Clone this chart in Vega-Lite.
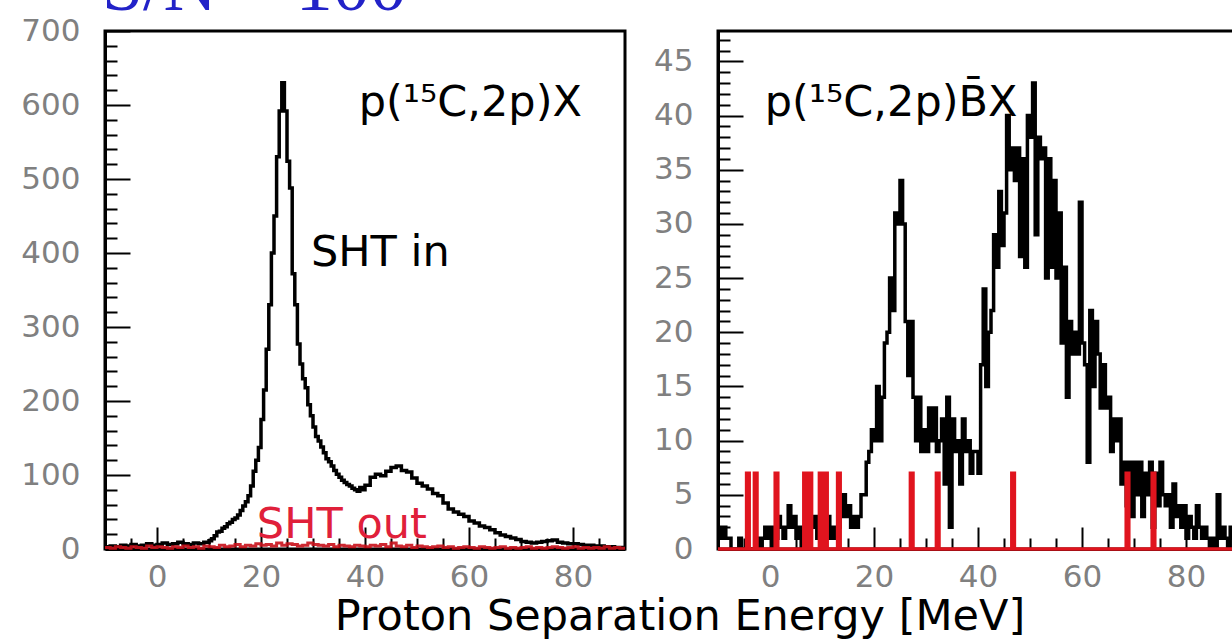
{
  "$schema": "https://vega.github.io/schema/vega-lite/v6.json",
  "background": "white",
  "padding": {"left": 19, "top": -51, "right": 0, "bottom": 0},
  "config": {
    "view": {"stroke": "black", "strokeWidth": 3},
    "axis": {"labelFont": "DejaVu Sans", "labelFontSize": 31, "labelColor": "#808080", "domainColor": "black", "domainWidth": 3, "tickColor": "black", "tickWidth": 2, "grid": false, "title": null, "labelOverlap": false, "labelFlush": false}
  },
  "title": {"text": "Proton Separation Energy [MeV]", "orient": "bottom", "anchor": "middle", "font": "DejaVu Sans", "fontSize": 43, "fontWeight": "normal", "color": "black", "dx": 47, "offset": -9},
  "datasets": {
    "leftIn": [
      {"E": -10, "n": 3}, {"E": -9, "n": 4}, {"E": -8, "n": 3}, {"E": -7, "n": 5}, {"E": -6, "n": 4}, {"E": -5, "n": 6}, {"E": -4, "n": 4}, {"E": -3, "n": 5}, {"E": -2, "n": 7}, {"E": -1, "n": 5},
      {"E": 0, "n": 6}, {"E": 1, "n": 8}, {"E": 2, "n": 6}, {"E": 3, "n": 7}, {"E": 4, "n": 9}, {"E": 5, "n": 7}, {"E": 6, "n": 6}, {"E": 7, "n": 8}, {"E": 8, "n": 7}, {"E": 9, "n": 9},
      {"E": 10, "n": 11}, {"E": 10.5, "n": 14}, {"E": 11, "n": 18}, {"E": 11.5, "n": 23}, {"E": 12, "n": 24}, {"E": 12.5, "n": 28}, {"E": 13, "n": 30}, {"E": 13.5, "n": 34}, {"E": 14, "n": 36}, {"E": 14.5, "n": 40},
      {"E": 15, "n": 42}, {"E": 15.5, "n": 46}, {"E": 16, "n": 52}, {"E": 16.5, "n": 58}, {"E": 17, "n": 64}, {"E": 17.5, "n": 72}, {"E": 18, "n": 85}, {"E": 18.5, "n": 105}, {"E": 19, "n": 120}, {"E": 19.5, "n": 137},
      {"E": 20, "n": 175}, {"E": 20.5, "n": 215}, {"E": 21, "n": 270}, {"E": 21.5, "n": 330}, {"E": 22, "n": 400}, {"E": 22.5, "n": 450}, {"E": 23, "n": 530}, {"E": 23.5, "n": 592}, {"E": 24, "n": 630}, {"E": 24.5, "n": 592},
      {"E": 25, "n": 524}, {"E": 25.5, "n": 488}, {"E": 26, "n": 372}, {"E": 26.5, "n": 330}, {"E": 27, "n": 277}, {"E": 27.5, "n": 250}, {"E": 28, "n": 230}, {"E": 28.5, "n": 218}, {"E": 29, "n": 195}, {"E": 29.5, "n": 180},
      {"E": 30, "n": 165}, {"E": 30.5, "n": 152}, {"E": 31, "n": 146}, {"E": 31.5, "n": 138}, {"E": 32, "n": 130}, {"E": 32.5, "n": 122}, {"E": 33, "n": 118}, {"E": 33.5, "n": 112}, {"E": 34, "n": 106}, {"E": 34.5, "n": 101},
      {"E": 35, "n": 97}, {"E": 35.5, "n": 93}, {"E": 36, "n": 90}, {"E": 36.5, "n": 87}, {"E": 37, "n": 85}, {"E": 37.5, "n": 82}, {"E": 38, "n": 80}, {"E": 38.5, "n": 78}, {"E": 39, "n": 83}, {"E": 39.5, "n": 80},
      {"E": 40, "n": 86}, {"E": 41, "n": 97}, {"E": 42, "n": 101}, {"E": 43, "n": 99}, {"E": 44, "n": 105}, {"E": 45, "n": 110}, {"E": 46, "n": 112}, {"E": 47, "n": 106}, {"E": 48, "n": 104}, {"E": 49, "n": 96},
      {"E": 50, "n": 89}, {"E": 51, "n": 85}, {"E": 52, "n": 81}, {"E": 53, "n": 75}, {"E": 54, "n": 72}, {"E": 55, "n": 62}, {"E": 56, "n": 54}, {"E": 57, "n": 50}, {"E": 58, "n": 47}, {"E": 59, "n": 44},
      {"E": 60, "n": 38}, {"E": 61, "n": 35}, {"E": 62, "n": 31}, {"E": 63, "n": 29}, {"E": 64, "n": 26}, {"E": 65, "n": 22}, {"E": 66, "n": 19}, {"E": 67, "n": 17}, {"E": 68, "n": 15}, {"E": 69, "n": 13},
      {"E": 70, "n": 10}, {"E": 71, "n": 9}, {"E": 72, "n": 8}, {"E": 73, "n": 9}, {"E": 74, "n": 10}, {"E": 75, "n": 11}, {"E": 76, "n": 12}, {"E": 77, "n": 9}, {"E": 78, "n": 8}, {"E": 79, "n": 7},
      {"E": 80, "n": 7}, {"E": 81, "n": 6}, {"E": 82, "n": 5}, {"E": 83, "n": 5}, {"E": 84, "n": 4}, {"E": 85, "n": 4}, {"E": 86, "n": 3}, {"E": 87, "n": 3}, {"E": 88, "n": 2}, {"E": 89, "n": 2}, {"E": 90, "n": 2}
    ],
    "leftOut": [
      {"E": -10, "n": 2}, {"E": -9, "n": 1}, {"E": -8, "n": 3}, {"E": -7, "n": 2}, {"E": -6, "n": 1}, {"E": -5, "n": 3}, {"E": -4, "n": 2}, {"E": -3, "n": 1}, {"E": -2, "n": 4}, {"E": -1, "n": 2},
      {"E": 0, "n": 3}, {"E": 1, "n": 2}, {"E": 2, "n": 1}, {"E": 3, "n": 3}, {"E": 4, "n": 2}, {"E": 5, "n": 4}, {"E": 6, "n": 2}, {"E": 7, "n": 3}, {"E": 8, "n": 1}, {"E": 9, "n": 4},
      {"E": 10, "n": 3}, {"E": 11, "n": 2}, {"E": 12, "n": 5}, {"E": 13, "n": 3}, {"E": 14, "n": 4}, {"E": 15, "n": 6}, {"E": 16, "n": 3}, {"E": 17, "n": 5}, {"E": 18, "n": 4}, {"E": 19, "n": 7},
      {"E": 20, "n": 5}, {"E": 21, "n": 6}, {"E": 22, "n": 4}, {"E": 23, "n": 8}, {"E": 24, "n": 5}, {"E": 25, "n": 7}, {"E": 26, "n": 6}, {"E": 27, "n": 4}, {"E": 28, "n": 5}, {"E": 29, "n": 8},
      {"E": 30, "n": 6}, {"E": 31, "n": 5}, {"E": 32, "n": 4}, {"E": 33, "n": 6}, {"E": 34, "n": 3}, {"E": 35, "n": 5}, {"E": 36, "n": 4}, {"E": 37, "n": 3}, {"E": 38, "n": 5}, {"E": 39, "n": 4},
      {"E": 40, "n": 3}, {"E": 41, "n": 5}, {"E": 42, "n": 4}, {"E": 43, "n": 6}, {"E": 44, "n": 3}, {"E": 45, "n": 8}, {"E": 46, "n": 4}, {"E": 47, "n": 3}, {"E": 48, "n": 5}, {"E": 49, "n": 2},
      {"E": 50, "n": 4}, {"E": 51, "n": 3}, {"E": 52, "n": 2}, {"E": 53, "n": 3}, {"E": 54, "n": 4}, {"E": 55, "n": 2}, {"E": 56, "n": 3}, {"E": 57, "n": 1}, {"E": 58, "n": 2}, {"E": 59, "n": 3},
      {"E": 60, "n": 2}, {"E": 61, "n": 1}, {"E": 62, "n": 3}, {"E": 63, "n": 2}, {"E": 64, "n": 1}, {"E": 65, "n": 2}, {"E": 66, "n": 3}, {"E": 67, "n": 1}, {"E": 68, "n": 2}, {"E": 69, "n": 1},
      {"E": 70, "n": 2}, {"E": 71, "n": 3}, {"E": 72, "n": 1}, {"E": 73, "n": 2}, {"E": 74, "n": 1}, {"E": 75, "n": 2}, {"E": 76, "n": 3}, {"E": 77, "n": 2}, {"E": 78, "n": 1}, {"E": 79, "n": 2},
      {"E": 80, "n": 3}, {"E": 81, "n": 1}, {"E": 82, "n": 2}, {"E": 83, "n": 1}, {"E": 84, "n": 2}, {"E": 85, "n": 1}, {"E": 86, "n": 3}, {"E": 87, "n": 1}, {"E": 88, "n": 2}, {"E": 89, "n": 1}, {"E": 90, "n": 1}
    ],
    "rightIn": [
      {"E": -10, "n": 2}, {"E": -9.5, "n": 1}, {"E": -9, "n": 2}, {"E": -8.5, "n": 1}, {"E": -8, "n": 1}, {"E": -7.5, "n": 0}, {"E": -7, "n": 0}, {"E": -6.5, "n": 0}, {"E": -6, "n": 1}, {"E": -5.5, "n": 0},
      {"E": -5, "n": 0}, {"E": -4.5, "n": 0}, {"E": -4, "n": 0}, {"E": -3.5, "n": 0}, {"E": -3, "n": 0}, {"E": -2.5, "n": 1}, {"E": -2, "n": 0}, {"E": -1.5, "n": 1}, {"E": -1, "n": 2}, {"E": -0.5, "n": 1},
      {"E": 0, "n": 2}, {"E": 0.5, "n": 0}, {"E": 1, "n": 1}, {"E": 1.5, "n": 3}, {"E": 2, "n": 2}, {"E": 2.5, "n": 1}, {"E": 3, "n": 2}, {"E": 3.5, "n": 4}, {"E": 4, "n": 2}, {"E": 4.5, "n": 3},
      {"E": 5, "n": 1}, {"E": 5.5, "n": 2}, {"E": 6, "n": 0}, {"E": 6.5, "n": 1}, {"E": 7, "n": 2}, {"E": 7.5, "n": 3}, {"E": 8, "n": 2}, {"E": 8.5, "n": 3}, {"E": 9, "n": 1}, {"E": 9.5, "n": 2},
      {"E": 10, "n": 1}, {"E": 10.5, "n": 2}, {"E": 11, "n": 3}, {"E": 11.5, "n": 1}, {"E": 12, "n": 2}, {"E": 12.5, "n": 1}, {"E": 13, "n": 2}, {"E": 13.5, "n": 3}, {"E": 14, "n": 5}, {"E": 14.5, "n": 3},
      {"E": 15, "n": 4}, {"E": 15.5, "n": 2}, {"E": 16, "n": 3}, {"E": 16.5, "n": 2}, {"E": 17, "n": 3}, {"E": 17.5, "n": 5}, {"E": 18, "n": 5}, {"E": 18.5, "n": 8}, {"E": 19, "n": 9}, {"E": 19.5, "n": 11},
      {"E": 20, "n": 10}, {"E": 20.5, "n": 15}, {"E": 21, "n": 10}, {"E": 21.5, "n": 14}, {"E": 22, "n": 19}, {"E": 22.5, "n": 20}, {"E": 23, "n": 25}, {"E": 23.5, "n": 22}, {"E": 24, "n": 31}, {"E": 24.5, "n": 30},
      {"E": 25, "n": 34}, {"E": 25.5, "n": 30}, {"E": 26, "n": 21}, {"E": 26.5, "n": 16}, {"E": 27, "n": 21}, {"E": 27.5, "n": 14}, {"E": 28, "n": 10}, {"E": 28.5, "n": 14}, {"E": 29, "n": 9}, {"E": 29.5, "n": 11},
      {"E": 30, "n": 9}, {"E": 30.5, "n": 13}, {"E": 31, "n": 10}, {"E": 31.5, "n": 13}, {"E": 32, "n": 9}, {"E": 32.5, "n": 10}, {"E": 33, "n": 12}, {"E": 33.5, "n": 6}, {"E": 34, "n": 14}, {"E": 34.5, "n": 2},
      {"E": 35, "n": 12}, {"E": 35.5, "n": 9}, {"E": 36, "n": 10}, {"E": 36.5, "n": 6}, {"E": 37, "n": 12}, {"E": 37.5, "n": 9}, {"E": 38, "n": 10}, {"E": 38.5, "n": 7}, {"E": 39, "n": 9}, {"E": 39.5, "n": 9},
      {"E": 40, "n": 7}, {"E": 40.5, "n": 17}, {"E": 41, "n": 24}, {"E": 41.5, "n": 15}, {"E": 42, "n": 20}, {"E": 42.5, "n": 22}, {"E": 43, "n": 29}, {"E": 43.5, "n": 26}, {"E": 44, "n": 33}, {"E": 44.5, "n": 28},
      {"E": 45, "n": 31}, {"E": 45.5, "n": 40}, {"E": 46, "n": 35}, {"E": 46.5, "n": 37}, {"E": 47, "n": 34}, {"E": 47.5, "n": 37}, {"E": 48, "n": 27}, {"E": 48.5, "n": 36}, {"E": 49, "n": 26}, {"E": 49.5, "n": 40},
      {"E": 50, "n": 38}, {"E": 50.5, "n": 43}, {"E": 51, "n": 29}, {"E": 51.5, "n": 38}, {"E": 52, "n": 36}, {"E": 52.5, "n": 37}, {"E": 53, "n": 25}, {"E": 53.5, "n": 36}, {"E": 54, "n": 26}, {"E": 54.5, "n": 34},
      {"E": 55, "n": 25}, {"E": 55.5, "n": 31}, {"E": 56, "n": 19}, {"E": 56.5, "n": 26}, {"E": 57, "n": 14}, {"E": 57.5, "n": 21}, {"E": 58, "n": 18}, {"E": 58.5, "n": 20}, {"E": 59, "n": 18}, {"E": 59.5, "n": 32},
      {"E": 60, "n": 19}, {"E": 60.5, "n": 17}, {"E": 61, "n": 8}, {"E": 61.5, "n": 22}, {"E": 62, "n": 15}, {"E": 62.5, "n": 21}, {"E": 63, "n": 18}, {"E": 63.5, "n": 13}, {"E": 64, "n": 17}, {"E": 64.5, "n": 13},
      {"E": 65, "n": 14}, {"E": 65.5, "n": 9}, {"E": 66, "n": 12}, {"E": 66.5, "n": 10}, {"E": 67, "n": 12}, {"E": 67.5, "n": 6}, {"E": 68, "n": 8}, {"E": 68.5, "n": 4}, {"E": 69, "n": 8}, {"E": 69.5, "n": 3},
      {"E": 70, "n": 8}, {"E": 70.5, "n": 5}, {"E": 71, "n": 8}, {"E": 71.5, "n": 3}, {"E": 72, "n": 7}, {"E": 72.5, "n": 5}, {"E": 73, "n": 8}, {"E": 73.5, "n": 2}, {"E": 74, "n": 7}, {"E": 74.5, "n": 4},
      {"E": 75, "n": 8}, {"E": 75.5, "n": 5}, {"E": 76, "n": 4}, {"E": 76.5, "n": 5}, {"E": 77, "n": 2}, {"E": 77.5, "n": 6}, {"E": 78, "n": 3}, {"E": 78.5, "n": 4}, {"E": 79, "n": 2}, {"E": 79.5, "n": 4},
      {"E": 80, "n": 1}, {"E": 80.5, "n": 3}, {"E": 81, "n": 2}, {"E": 81.5, "n": 1}, {"E": 82, "n": 4}, {"E": 82.5, "n": 2}, {"E": 83, "n": 1}, {"E": 83.5, "n": 2}, {"E": 84, "n": 1}, {"E": 84.5, "n": 0},
      {"E": 85, "n": 1}, {"E": 85.5, "n": 0}, {"E": 86, "n": 5}, {"E": 86.5, "n": 1}, {"E": 87, "n": 2}, {"E": 87.5, "n": 1}, {"E": 88, "n": 0}, {"E": 88.5, "n": 2}, {"E": 89, "n": 1}, {"E": 89.5, "n": 0}, {"E": 90, "n": 0}
    ],
    "rightOut": [
      {"E": -10, "n": 0}, {"E": -4.5, "n": 7}, {"E": -4, "n": 0}, {"E": -3, "n": 7}, {"E": -2.5, "n": 0}, {"E": 1, "n": 7}, {"E": 1.5, "n": 0},
      {"E": 6.5, "n": 7}, {"E": 7, "n": 0}, {"E": 7.5, "n": 7}, {"E": 8, "n": 0}, {"E": 9.5, "n": 7}, {"E": 10, "n": 0}, {"E": 10.5, "n": 7}, {"E": 11, "n": 0},
      {"E": 13, "n": 7}, {"E": 13.5, "n": 0}, {"E": 27, "n": 7}, {"E": 27.5, "n": 0}, {"E": 32, "n": 7}, {"E": 32.5, "n": 0}, {"E": 46.5, "n": 7}, {"E": 47, "n": 0},
      {"E": 68.5, "n": 7}, {"E": 69, "n": 0}, {"E": 73.5, "n": 7}, {"E": 74, "n": 0}, {"E": 90, "n": 0}
    ]
  },
  "hconcat": [
    {
      "width": 520,
      "height": 518,
      "layer": [
        {"data": {"name": "leftIn"}, "mark": {"type": "line", "interpolate": "step-after", "color": "black", "strokeWidth": 3.5},
          "encoding": {
            "x": {"field": "E", "type": "quantitative", "scale": {"domain": [-10, 90], "nice": false, "zero": false},
              "axis": {"values": [-5, 0, 5, 10, 15, 20, 25, 30, 35, 40, 45, 50, 55, 60, 65, 70, 75, 80, 85], "labelExpr": "datum.value % 20 === 0 ? datum.label : ''", "tickSize": {"condition": {"test": "datum.value % 20 === 0", "value": -22}, "value": -11}, "labelPadding": 35}},
            "y": {"field": "n", "type": "quantitative", "scale": {"domain": [0, 700], "nice": false},
              "axis": {"values": [0, 20, 40, 60, 80, 100, 120, 140, 160, 180, 200, 220, 240, 260, 280, 300, 320, 340, 360, 380, 400, 420, 440, 460, 480, 500, 520, 540, 560, 580, 600, 620, 640, 660, 680, 700], "labelExpr": "datum.value % 100 === 0 ? datum.label : ''", "tickSize": {"condition": {"test": "datum.value % 100 === 0", "value": -25}, "value": -12}, "labelPadding": 50}}
          }},
        {"data": {"name": "leftOut"}, "mark": {"type": "line", "interpolate": "step-after", "color": "#c8101a", "strokeWidth": 3, "opacity": 0.9},
          "encoding": {
            "x": {"field": "E", "type": "quantitative",
              "axis": {"values": [-5, 0, 5, 10, 15, 20, 25, 30, 35, 40, 45, 50, 55, 60, 65, 70, 75, 80, 85], "labelExpr": "datum.value % 20 === 0 ? datum.label : ''", "tickSize": {"condition": {"test": "datum.value % 20 === 0", "value": -22}, "value": -11}, "labelPadding": 35}},
            "y": {"field": "n", "type": "quantitative",
              "axis": {"values": [0, 20, 40, 60, 80, 100, 120, 140, 160, 180, 200, 220, 240, 260, 280, 300, 320, 340, 360, 380, 400, 420, 440, 460, 480, 500, 520, 540, 560, 580, 600, 620, 640, 660, 680, 700], "labelExpr": "datum.value % 100 === 0 ? datum.label : ''", "tickSize": {"condition": {"test": "datum.value % 100 === 0", "value": -25}, "value": -12}, "labelPadding": 50}}
          }},
        {"data": {"values": [{"label": "p(¹⁵C,2p)X"}]}, "mark": {"type": "text", "align": "left", "baseline": "alphabetic", "font": "DejaVu Sans", "fontSize": 43, "color": "black"},
          "encoding": {"text": {"field": "label"},
            "x": {"datum": 38.8, "type": "quantitative",
              "axis": {"values": [-5, 0, 5, 10, 15, 20, 25, 30, 35, 40, 45, 50, 55, 60, 65, 70, 75, 80, 85], "labelExpr": "datum.value % 20 === 0 ? datum.label : ''", "tickSize": {"condition": {"test": "datum.value % 20 === 0", "value": -22}, "value": -11}, "labelPadding": 35}},
            "y": {"datum": 585, "type": "quantitative",
              "axis": {"values": [0, 20, 40, 60, 80, 100, 120, 140, 160, 180, 200, 220, 240, 260, 280, 300, 320, 340, 360, 380, 400, 420, 440, 460, 480, 500, 520, 540, 560, 580, 600, 620, 640, 660, 680, 700], "labelExpr": "datum.value % 100 === 0 ? datum.label : ''", "tickSize": {"condition": {"test": "datum.value % 100 === 0", "value": -25}, "value": -12}, "labelPadding": 50}}}},
        {"data": {"values": [{"label": "SHT in"}]}, "mark": {"type": "text", "align": "left", "baseline": "alphabetic", "font": "DejaVu Sans", "fontSize": 43, "color": "black"},
          "encoding": {"text": {"field": "label"},
            "x": {"datum": 29.6, "type": "quantitative",
              "axis": {"values": [-5, 0, 5, 10, 15, 20, 25, 30, 35, 40, 45, 50, 55, 60, 65, 70, 75, 80, 85], "labelExpr": "datum.value % 20 === 0 ? datum.label : ''", "tickSize": {"condition": {"test": "datum.value % 20 === 0", "value": -22}, "value": -11}, "labelPadding": 35}},
            "y": {"datum": 382, "type": "quantitative",
              "axis": {"values": [0, 20, 40, 60, 80, 100, 120, 140, 160, 180, 200, 220, 240, 260, 280, 300, 320, 340, 360, 380, 400, 420, 440, 460, 480, 500, 520, 540, 560, 580, 600, 620, 640, 660, 680, 700], "labelExpr": "datum.value % 100 === 0 ? datum.label : ''", "tickSize": {"condition": {"test": "datum.value % 100 === 0", "value": -25}, "value": -12}, "labelPadding": 50}}}},
        {"data": {"values": [{"label": "SHT out"}]}, "mark": {"type": "text", "align": "left", "baseline": "alphabetic", "font": "DejaVu Sans", "fontSize": 43, "color": "#e0203a"},
          "encoding": {"text": {"field": "label"},
            "x": {"datum": 19.2, "type": "quantitative",
              "axis": {"values": [-5, 0, 5, 10, 15, 20, 25, 30, 35, 40, 45, 50, 55, 60, 65, 70, 75, 80, 85], "labelExpr": "datum.value % 20 === 0 ? datum.label : ''", "tickSize": {"condition": {"test": "datum.value % 20 === 0", "value": -22}, "value": -11}, "labelPadding": 35}},
            "y": {"datum": 15, "type": "quantitative",
              "axis": {"values": [0, 20, 40, 60, 80, 100, 120, 140, 160, 180, 200, 220, 240, 260, 280, 300, 320, 340, 360, 380, 400, 420, 440, 460, 480, 500, 520, 540, 560, 580, 600, 620, 640, 660, 680, 700], "labelExpr": "datum.value % 100 === 0 ? datum.label : ''", "tickSize": {"condition": {"test": "datum.value % 100 === 0", "value": -25}, "value": -12}, "labelPadding": 50}}}},
        {"data": {"values": [{"label": "S/N = 100"}]}, "mark": {"type": "text", "align": "left", "baseline": "alphabetic", "font": "Liberation Serif", "fontSize": 74, "color": "#2222c8"},
          "encoding": {"text": {"field": "label"},
            "x": {"datum": -10.6, "type": "quantitative",
              "axis": {"values": [-5, 0, 5, 10, 15, 20, 25, 30, 35, 40, 45, 50, 55, 60, 65, 70, 75, 80, 85], "labelExpr": "datum.value % 20 === 0 ? datum.label : ''", "tickSize": {"condition": {"test": "datum.value % 20 === 0", "value": -22}, "value": -11}, "labelPadding": 35}},
            "y": {"datum": 728, "type": "quantitative",
              "axis": {"values": [0, 20, 40, 60, 80, 100, 120, 140, 160, 180, 200, 220, 240, 260, 280, 300, 320, 340, 360, 380, 400, 420, 440, 460, 480, 500, 520, 540, 560, 580, 600, 620, 640, 660, 680, 700], "labelExpr": "datum.value % 100 === 0 ? datum.label : ''", "tickSize": {"condition": {"test": "datum.value % 100 === 0", "value": -25}, "value": -12}, "labelPadding": 50}}}}
      ]
    },
    {
      "width": 520,
      "height": 518,
      "layer": [
        {"data": {"name": "rightIn"}, "mark": {"type": "line", "interpolate": "step-after", "color": "black", "strokeWidth": 3.5},
          "encoding": {
            "x": {"field": "E", "type": "quantitative", "scale": {"domain": [-10, 90], "nice": false, "zero": false},
              "axis": {"values": [-5, 0, 5, 10, 15, 20, 25, 30, 35, 40, 45, 50, 55, 60, 65, 70, 75, 80, 85], "labelExpr": "datum.value % 20 === 0 ? datum.label : ''", "tickSize": {"condition": {"test": "datum.value % 20 === 0", "value": -22}, "value": -11}, "labelPadding": 35}},
            "y": {"field": "n", "type": "quantitative", "scale": {"domain": [0, 47.8], "nice": false},
              "axis": {"values": [0, 1, 2, 3, 4, 5, 6, 7, 8, 9, 10, 11, 12, 13, 14, 15, 16, 17, 18, 19, 20, 21, 22, 23, 24, 25, 26, 27, 28, 29, 30, 31, 32, 33, 34, 35, 36, 37, 38, 39, 40, 41, 42, 43, 44, 45, 46, 47], "labelExpr": "datum.value % 5 === 0 ? datum.label : ''", "tickSize": {"condition": {"test": "datum.value % 5 === 0", "value": -25}, "value": -12}, "labelPadding": 50}}
          }},
        {"data": {"name": "rightOut"}, "mark": {"type": "line", "interpolate": "step-after", "color": "#e0141e", "strokeWidth": 3.5},
          "encoding": {
            "x": {"field": "E", "type": "quantitative",
              "axis": {"values": [-5, 0, 5, 10, 15, 20, 25, 30, 35, 40, 45, 50, 55, 60, 65, 70, 75, 80, 85], "labelExpr": "datum.value % 20 === 0 ? datum.label : ''", "tickSize": {"condition": {"test": "datum.value % 20 === 0", "value": -22}, "value": -11}, "labelPadding": 35}},
            "y": {"field": "n", "type": "quantitative",
              "axis": {"values": [0, 1, 2, 3, 4, 5, 6, 7, 8, 9, 10, 11, 12, 13, 14, 15, 16, 17, 18, 19, 20, 21, 22, 23, 24, 25, 26, 27, 28, 29, 30, 31, 32, 33, 34, 35, 36, 37, 38, 39, 40, 41, 42, 43, 44, 45, 46, 47], "labelExpr": "datum.value % 5 === 0 ? datum.label : ''", "tickSize": {"condition": {"test": "datum.value % 5 === 0", "value": -25}, "value": -12}, "labelPadding": 50}}
          }},
        {"data": {"values": [{"label": "p(¹⁵C,2p)B̄X"}]}, "mark": {"type": "text", "align": "left", "baseline": "alphabetic", "font": "DejaVu Sans", "fontSize": 43, "color": "black"},
          "encoding": {"text": {"field": "label"},
            "x": {"datum": -1.0, "type": "quantitative",
              "axis": {"values": [-5, 0, 5, 10, 15, 20, 25, 30, 35, 40, 45, 50, 55, 60, 65, 70, 75, 80, 85], "labelExpr": "datum.value % 20 === 0 ? datum.label : ''", "tickSize": {"condition": {"test": "datum.value % 20 === 0", "value": -22}, "value": -11}, "labelPadding": 35}},
            "y": {"datum": 40, "type": "quantitative",
              "axis": {"values": [0, 1, 2, 3, 4, 5, 6, 7, 8, 9, 10, 11, 12, 13, 14, 15, 16, 17, 18, 19, 20, 21, 22, 23, 24, 25, 26, 27, 28, 29, 30, 31, 32, 33, 34, 35, 36, 37, 38, 39, 40, 41, 42, 43, 44, 45, 46, 47], "labelExpr": "datum.value % 5 === 0 ? datum.label : ''", "tickSize": {"condition": {"test": "datum.value % 5 === 0", "value": -25}, "value": -12}, "labelPadding": 50}}}}
      ]
    }
  ],
  "spacing": 93,
  "bounds": "flush"
}
